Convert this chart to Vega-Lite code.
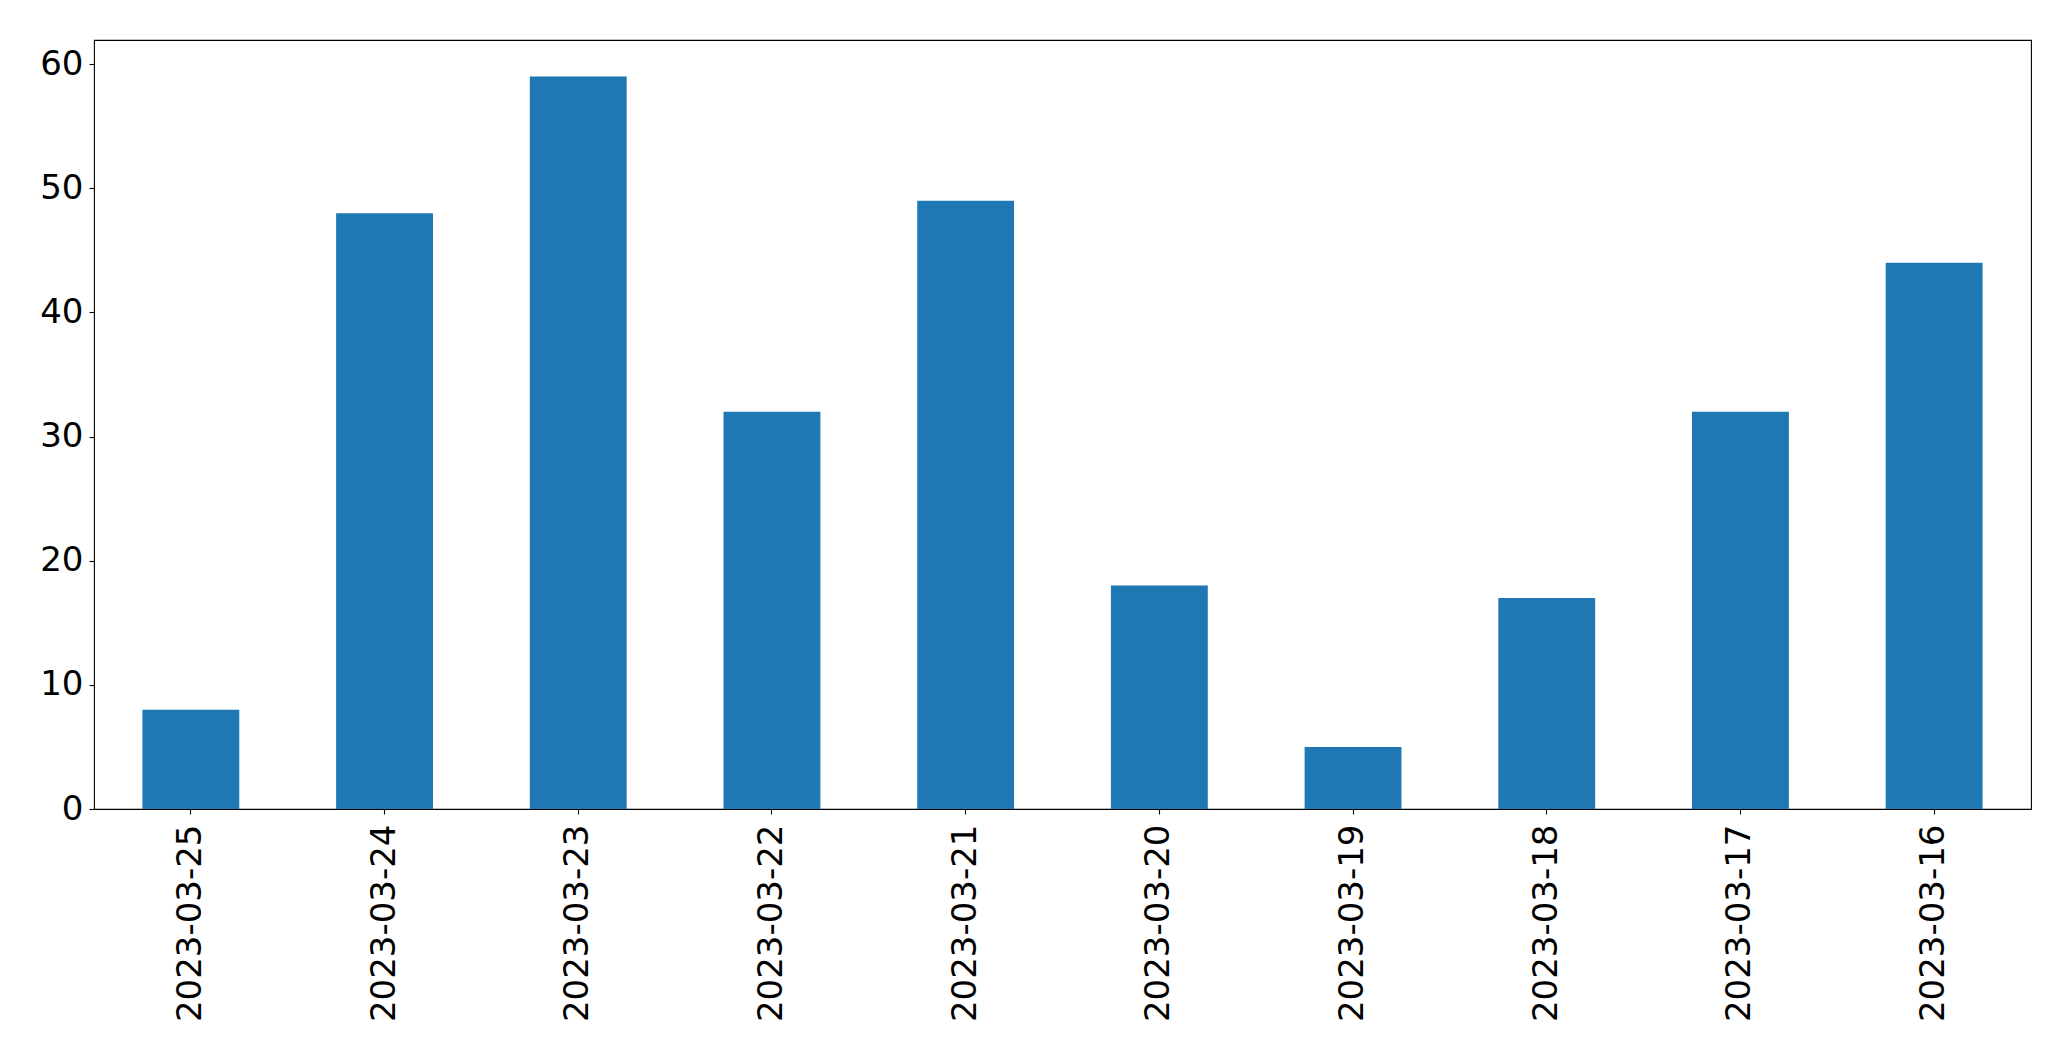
{
  "$schema": "https://vega.github.io/schema/vega-lite/v6.json",
  "autosize": {"type": "none"},
  "padding": {"left": 94, "top": 40, "right": 40, "bottom": 252},
  "width": 1937,
  "height": 769,
  "background": "white",
  "config": {
    "view": {"stroke": "black", "strokeWidth": 1.1},
    "axis": {
      "labelFont": "DejaVu Sans",
      "labelFontSize": 34,
      "labelColor": "black",
      "labelLimit": 0,
      "tickColor": "black",
      "tickSize": 5,
      "tickWidth": 1.1,
      "domain": false,
      "grid": false,
      "title": null
    }
  },
  "data": {
    "values": [
      {"date": "2023-03-25", "count": 8},
      {"date": "2023-03-24", "count": 48},
      {"date": "2023-03-23", "count": 59},
      {"date": "2023-03-22", "count": 32},
      {"date": "2023-03-21", "count": 49},
      {"date": "2023-03-20", "count": 18},
      {"date": "2023-03-19", "count": 5},
      {"date": "2023-03-18", "count": 17},
      {"date": "2023-03-17", "count": 32},
      {"date": "2023-03-16", "count": 44}
    ]
  },
  "mark": {"type": "bar", "color": "#1f77b4"},
  "encoding": {
    "x": {
      "field": "date",
      "type": "nominal",
      "sort": null,
      "scale": {"paddingInner": 0.5, "paddingOuter": 0.25},
      "axis": {"labelAngle": -90, "labelPadding": 10}
    },
    "y": {
      "field": "count",
      "type": "quantitative",
      "scale": {"domain": [0, 61.95], "nice": false, "zero": true},
      "axis": {"values": [0, 10, 20, 30, 40, 50, 60], "labelPadding": 6}
    }
  }
}
